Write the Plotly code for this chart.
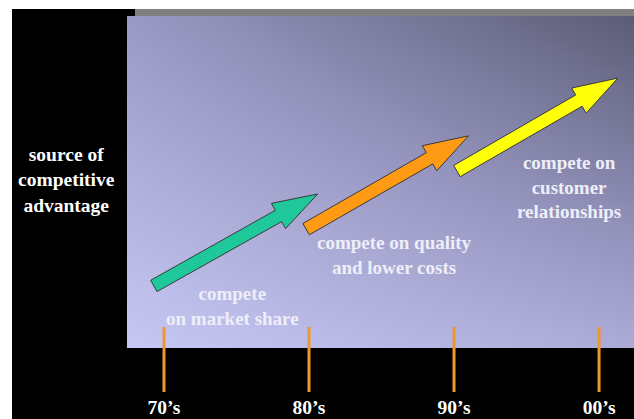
import numpy as np
import plotly.graph_objects as go

# ---- content -------------------------------------------------------------
decades = ["70’s", "80’s", "90’s", "00’s"]
decade_pos = [0, 1, 2, 3]

eras = ["market share", "quality and lower costs", "customer relationships"]
era_text = ["compete<br>on market share",
            "compete on quality<br>and lower costs",
            "compete on<br>customer<br>relationships"]
arrow_x0 = [-0.07, 0.98, 2.02]
arrow_y0 = [1.87, 3.58, 5.33]
arrow_x1 = [1.06, 2.10, 3.13]
arrow_y1 = [4.64, 6.39, 8.13]
arrow_colors = ["#1EC89A", "#FF9A14", "#FFFF0A"]
label_x = [0.47, 1.59, 2.79]
label_y = [1.27, 2.80, 4.86]

y_title = "source of<br>competitive<br>advantage"

# ---- geometry ------------------------------------------------------------
W, H = 634, 419
ML, MR, MT, MB = 127, 0, 16, 71
PW, PH = W - ML - MR, H - MT - MB
x_range = [-0.255, 3.241]
y_range = [0, 10]
sx = PW / (x_range[1] - x_range[0])
sy = PH / (y_range[1] - y_range[0])


def px_to_paper_x(px):
    return (px - ML) / PW


def px_to_paper_y(py):
    return (H - MB - py) / PH


def arrow_polygon(x0, y0, x1, y1, shaft=6.5, head_w=14.5, head_len=45):
    """Block arrow outline, built in screen units so widths stay uniform."""
    p0 = np.array([x0 * sx, y0 * sy])
    p1 = np.array([x1 * sx, y1 * sy])
    d = p1 - p0
    d /= np.linalg.norm(d)
    n = np.array([-d[1], d[0]])
    base = p1 - d * head_len
    pts = [p0 + n * shaft, base + n * shaft, base + n * head_w, p1,
           base - n * head_w, base - n * shaft, p0 - n * shaft, p0 + n * shaft]
    return [p[0] / sx for p in pts], [p[1] / sy for p in pts]


fig = go.Figure()

# shaded backdrop of the plotting panel
gx = np.linspace(x_range[0], x_range[1], 90)
gy = np.linspace(y_range[0], y_range[1], 60)
u = (gx - x_range[0]) / (x_range[1] - x_range[0])
v = (gy - y_range[0]) / (y_range[1] - y_range[0])
U, V = np.meshgrid(u, v)
Z = 0.27 * U + 0.45 * V + 0.28 * U * V
fig.add_trace(go.Heatmap(
    x=gx, y=gy, z=Z, zmin=0, zmax=1, zsmooth="best",
    colorscale=[[0, "#C7C7F4"], [0.5, "#9494BE"], [1, "#5C5C76"]],
    showscale=False, hoverinfo="skip"))

# era arrows
for i, era in enumerate(eras):
    ax, ay = arrow_polygon(arrow_x0[i], arrow_y0[i], arrow_x1[i], arrow_y1[i])
    fig.add_trace(go.Scatter(
        x=ax, y=ay, mode="lines", fill="toself", name=era,
        fillcolor=arrow_colors[i], line=dict(color="#3A3A3A", width=1),
        hoverinfo="name", showlegend=False))
    fig.add_annotation(
        x=label_x[i], y=label_y[i], xref="x", yref="y", text=f"<b>{era_text[i]}</b>",
        showarrow=False, xanchor="center", yanchor="middle", align="center",
        font=dict(family="Liberation Serif", size=19, color="#EEEEF8"))

# decade markers crossing the bottom edge of the panel
for p in decade_pos:
    fig.add_shape(type="line", xref="x", yref="paper", x0=p, x1=p,
                  y0=px_to_paper_y(392), y1=px_to_paper_y(327),
                  line=dict(color="#EC982E", width=3), layer="above")

# frame: white page edge, grey top strip
fig.add_shape(type="rect", xref="paper", yref="paper",
              x0=px_to_paper_x(-2), x1=px_to_paper_x(12),
              y0=px_to_paper_y(H + 2), y1=px_to_paper_y(-2),
              fillcolor="white", line_width=0, layer="above")
fig.add_shape(type="rect", xref="paper", yref="paper",
              x0=px_to_paper_x(-2), x1=px_to_paper_x(W + 2),
              y0=px_to_paper_y(9), y1=px_to_paper_y(-2),
              fillcolor="white", line_width=0, layer="above")
fig.add_shape(type="rect", xref="paper", yref="paper",
              x0=px_to_paper_x(135), x1=px_to_paper_x(W + 2),
              y0=px_to_paper_y(MT), y1=px_to_paper_y(9),
              fillcolor="#808080", line_width=0, layer="above")

fig.add_annotation(
    x=px_to_paper_x(66), y=px_to_paper_y(180), xref="paper", yref="paper",
    text=f"<b>{y_title}</b>", showarrow=False, xanchor="center", yanchor="middle",
    align="center", font=dict(family="Liberation Serif", size=19.5, color="white"))

fig.update_xaxes(
    range=x_range, tickvals=decade_pos, ticktext=[f"<b>{d}</b>" for d in decades],
    ticks="outside", ticklen=42, tickcolor="rgba(0,0,0,0)", automargin=False,
    tickfont=dict(family="Liberation Serif", size=19.5, color="white"),
    showgrid=False, zeroline=False, showline=False, fixedrange=True)
fig.update_yaxes(range=y_range, visible=False, showgrid=False, zeroline=False,
                 automargin=False, fixedrange=True)

fig.update_layout(
    width=W, height=H, margin=dict(l=ML, r=MR, t=MT, b=MB, autoexpand=False),
    paper_bgcolor="black", plot_bgcolor="black", showlegend=False)

fig.write_html("out.html")
